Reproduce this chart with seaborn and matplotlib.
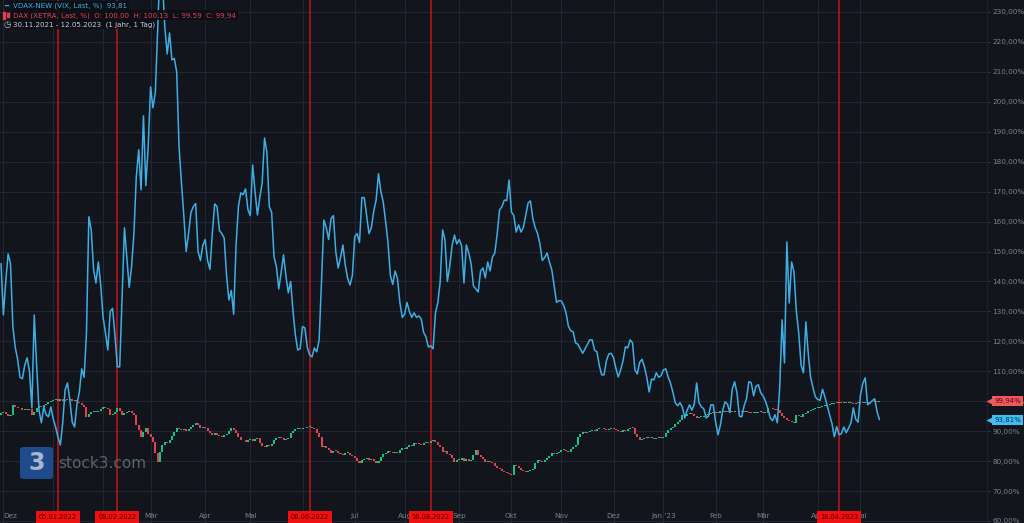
import numpy as np
import pandas as pd
import seaborn as sns
import matplotlib.pyplot as plt
import matplotlib.transforms as mtransforms
from matplotlib.patches import FancyBboxPatch, Rectangle

# trading calendar (XETRA days, 30.11.2021 - 12.05.2023)
start_date = "2021-11-30"
end_date = "2023-05-12"
xetra_holidays = ["2021-12-24", "2021-12-31", "2022-04-15", "2022-04-18",
                  "2022-12-26", "2023-04-07", "2023-04-10", "2023-05-01"]

# VDAX-NEW, performance in % (start = 100)
vdax_pct = [
    146, 128.8, 140, 149.2, 146, 125, 118, 114, 108,
    107.5, 112, 114.5, 110, 97.8, 128.8, 112, 97, 92.8, 98.1,
    95.5, 94.8, 98.1, 94, 91.4, 88, 85.4, 92.8, 103.8, 106.1,
    100.4, 93, 91.4, 99, 103.1, 110.8, 108, 122.8, 161.6,
    157.2, 143.9, 139.5, 146.5, 138.8, 128, 122.8, 117.1, 130, 131,
    122, 111.5, 111.5, 135, 157.9, 148, 138, 145, 156.2, 175,
    184, 170.6, 195.3, 172, 185, 205, 198, 203, 225, 245,
    240, 225, 216, 223, 214, 214.5, 210, 185, 173, 162,
    150, 156, 163, 165, 166, 150, 147, 152, 154, 147,
    144, 156, 165.9, 165, 157, 156, 154.5, 142, 133.8, 137,
    129, 152, 165, 169.6, 169, 170.9, 164, 162, 178.9,
    170, 162.2, 168, 172.9, 187.9, 183, 165, 163, 148.2, 145,
    137.5, 143, 148.9, 142, 136.2, 140, 130, 122, 117.1, 117.5,
    124.9, 124.5, 118, 115.5, 114.8, 117.8, 116.5, 120.5, 140, 160.5,
    158, 154, 161, 162, 150, 144.5, 148, 152.2, 145.5, 141,
    138.8, 142, 155, 156, 153, 168, 168, 162, 156, 158,
    163.5, 167.2, 176, 170, 166.5, 160, 153, 142, 139,
    143.5, 141, 133, 128, 129, 133, 130, 128, 129.5, 128,
    128.5, 127.5, 123, 121.5, 118.1, 118.5, 117.5, 129.5, 133, 140,
    157.2, 153.9, 140, 145, 152, 155.5, 152.5, 154, 152, 139.5,
    152.2, 149.5, 146, 138.5, 137.5, 136.5, 143.5, 144.5, 141.2, 146.5,
    143.5, 148.2, 149.5, 156, 163.9, 165, 167.2, 167, 173.9, 163.2,
    162, 156.5, 158.9, 156.5, 158, 162, 166.2, 166.9, 161, 158,
    156, 152.5, 147, 148, 149.5, 146.5, 143.9, 138.5, 133,
    133.6, 133.5, 132, 129.5, 125, 123.5, 123.2, 119.5, 119, 117.5,
    116, 117.5, 119, 120.5, 120.5, 117.1, 116.5, 112, 108.8, 108.8,
    113.5, 115.8, 116, 114.5, 111, 108.1, 110.5, 113.5, 118.2, 117.8,
    120.5, 119.5, 110.5, 109.1, 113, 114, 111.5, 108, 103.1, 107.4,
    107.1, 109.5, 108, 108.5, 110.5, 110.8, 108.1, 106, 103, 99.5,
    98.5, 99.5, 98, 94.4, 97, 98.8, 97, 99, 106.1, 99.5,
    98.1, 97.5, 94.4, 95, 98.8, 98.8, 93, 88.8, 92,
    97, 99.8, 99, 96.2, 104, 106.5, 102.8, 95, 94.8, 98.5,
    100.8, 106.5, 106.2, 101.8, 105, 105.5, 102.8, 101.8, 100, 97.6,
    94.4, 93.5, 95.5, 92.8, 104.8, 127.2, 112.8, 153.2, 132.8, 146.5,
    143.2, 130, 122.8, 112, 109.5, 126.5, 116, 108, 104.5, 101.5,
    100.6, 100.3, 104, 101.5, 98.5, 95.5, 92.5, 88.1, 91.5,
    88.8, 89.2, 91.4, 89.5, 91, 92.8, 97.8, 94, 93, 102,
    106, 107.8, 98.8, 99.4, 100.2, 100.8, 96.5, 93.81,
]

# DAX daily close, performance in %
dax_close = [
    96.0, 96.4, 95.7, 95.2, 95.5, 98.8, 98.0, 97.6,
    97.8, 97.2, 97.5, 97.0, 97.4, 95.4, 96.3, 97.8, 98.3, 98.0,
    98.6, 99.2, 99.6, 100.0, 100.4, 100.8, 100.2, 100.6, 100.1, 100.5,
    100.3, 100.7, 100.0, 100.4, 99.9, 99.4, 98.6, 98.0, 94.8, 95.6,
    96.4, 96.9, 96.5, 96.8, 97.4, 98.1, 97.8, 97.5, 95.4, 95.9,
    96.4, 97.8, 96.8, 95.4, 96.0, 96.5, 96.9, 96.0, 95.4, 92.1,
    90.4, 88.1, 89.6, 91.1, 89.2, 88.1, 86.5, 82.8, 79.7,
    83.2, 85.4, 86.5, 86.0, 87.1, 88.5, 89.8, 91.1, 90.6, 90.3,
    90.8, 90.2, 90.6, 91.3, 92.0, 92.8, 91.9, 91.1, 91.5, 91.1,
    90.0, 89.4, 88.8, 89.3, 88.8, 88.4, 88.1, 88.6, 89.0, 90.2,
    91.1, 90.5, 89.5, 88.2, 87.1, 86.9, 86.5, 86.9, 87.4, 86.8,
    87.3, 87.8, 86.2, 85.0, 84.8, 85.5, 85.2, 85.8, 87.1, 87.6,
    88.1, 87.6, 87.1, 87.4, 87.8, 89.5, 90.2, 90.7, 91.1,
    90.8, 91.2, 90.9, 91.3, 91.5, 91.0, 90.6, 89.4, 88.1, 84.8,
    85.0, 84.4, 83.6, 82.8, 83.4, 83.3, 82.6, 82.4, 82.1, 82.6,
    82.8, 82.1, 81.6, 81.1, 80.2, 79.4, 80.3, 80.8, 81.1, 80.5,
    80.6, 80.0, 79.4, 80.0, 81.5, 82.4, 82.8, 83.3, 83.1, 82.6,
    83.0, 82.8, 83.6, 84.4, 84.2, 84.8, 85.3, 85.0, 86.1, 85.8,
    85.6, 85.4, 85.9, 86.5, 86.2, 86.8, 87.1, 86.4, 85.4, 84.6,
    83.1, 83.3, 82.5, 82.1, 81.1, 79.7, 80.4, 80.4, 80.9,
    80.0, 80.6, 80.2, 80.5, 82.0, 83.8, 82.1, 81.4, 80.8, 79.7,
    80.1, 79.6, 79.4, 78.5, 77.7, 77.2, 76.8, 76.4, 76.1, 75.8,
    75.4, 78.7, 78.4, 77.8, 77.0, 76.8, 76.4, 76.7, 77.0, 77.5,
    79.4, 80.4, 79.9, 79.7, 80.4, 81.1, 81.6, 82.6, 82.3, 82.8,
    83.2, 83.6, 83.8, 83.4, 83.1, 84.2, 84.8, 85.4, 88.1, 88.9,
    89.8, 89.5, 89.8, 90.2, 90.4, 90.1, 90.7, 90.9, 91.1,
    90.8, 90.4, 90.7, 91.1, 90.6, 90.4, 90.1, 89.8, 90.3, 90.1,
    90.6, 91.1, 91.0, 88.9, 88.1, 87.1, 87.5, 87.6, 88.1, 87.7,
    87.8, 87.5, 87.8, 88.0, 87.7, 88.1, 89.5, 90.4, 91.1, 91.4,
    92.4, 93.1, 93.8, 95.4, 95.0, 95.6, 96.1, 95.7, 95.1, 94.4,
    94.6, 94.8, 95.1, 95.4, 95.8, 96.1, 96.0, 96.4, 96.2, 96.6,
    96.4, 96.8, 96.3, 96.7, 96.5, 96.9, 96.6, 96.4, 96.7, 96.3,
    96.5, 96.1, 96.0, 96.1, 96.1, 96.3, 96.4, 96.0, 96.1,
    97.8, 97.6, 97.5, 97.2, 97.0, 96.1, 95.2, 94.4, 93.8, 93.4,
    93.1, 92.8, 95.4, 95.0, 94.8, 95.6, 96.1, 96.6, 97.1, 97.4,
    97.8, 97.9, 98.1, 98.3, 98.4, 98.7, 99.1, 99.2, 99.4, 99.3,
    99.6, 99.4, 99.5, 99.3, 99.6, 99.4, 99.2, 99.5, 99.3, 99.6,
    99.4, 99.5, 99.8, 99.6, 99.9, 100.1, 99.8, 99.94,
]
dax_first_open = 95.5

event_dates = ["2022-01-05", "2022-02-09", "2022-06-06", "2022-08-16", "2023-04-18"]
event_labels = ["05.01.2022", "09.02.2022", "06.06.2022", "16.08.2022", "18.04.2023"]

month_names = ["Jan", "Feb", "Mär", "Apr", "Mai", "Jun",
               "Jul", "Aug", "Sep", "Okt", "Nov", "Dez"]
y_ticks = list(range(60, 240, 10))

bg = "#12151c"
grid_c = "#22262f"
tick_c = "#7c818c"
blue = "#3eaee4"
up_c = "#14c386"
down_c = "#e2424e"

sns.set_style("dark", {"axes.facecolor": bg, "figure.facecolor": bg,
                       "grid.color": grid_c, "axes.edgecolor": grid_c})
plt.rcParams["font.family"] = ["DejaVu Sans"]

days = pd.bdate_range(start_date, end_date, freq="C", holidays=xetra_holidays)
df = pd.DataFrame({"date": days, "day": np.arange(len(days)),
                   "vdax": vdax_pct, "close": dax_close})
df["open"] = df["close"].shift(1).fillna(dax_first_open)

fig = plt.figure(figsize=(10.24, 5.23), dpi=100)
ax = fig.add_axes([0, 0, 987 / 1024, 1])

# DAX candles
up = df["close"] >= df["open"]
body_low = np.minimum(df["open"], df["close"])
body_h = np.maximum((df["close"] - df["open"]).abs(), 0.3)
ax.bar(df["day"], body_h, bottom=body_low, width=0.85,
       color=np.where(up, up_c, down_c), linewidth=0, zorder=3)

# VDAX line
sns.lineplot(data=df, x="day", y="vdax", color=blue, linewidth=1.1, ax=ax, zorder=4)

# red event lines + date boxes
blend = mtransforms.blended_transform_factory(ax.transData, ax.transAxes)
for d, lab in zip(event_dates, event_labels):
    pos = days.get_loc(pd.Timestamp(d))
    ax.axvline(pos, color="#b8141a", linewidth=1.2, zorder=2)
    ax.text(pos, 0.0115, lab, transform=blend, ha="center", va="center",
            fontsize=4.8, color="#400000", zorder=8,
            bbox=dict(boxstyle="square,pad=0.45", fc="#f20f0f", ec="none"))

# month ticks
month_pos, month_lbl = [], []
prev = None
for i, d in enumerate(days):
    key = (d.year, d.month)
    if prev is not None and key != prev:
        month_pos.append(i)
        name = month_names[d.month - 1]
        if d.month == 1 and d.year == 2023:
            name = "Jan '23"
        month_lbl.append(name)
    prev = key

ax.set_xticks(month_pos)
ax.set_xticklabels(month_lbl)
ax.tick_params(axis="x", length=0, pad=-7, labelsize=5.2, labelcolor=tick_c)
ax.get_xticklabels()[0].set_horizontalalignment("left")

ax.yaxis.tick_right()
ax.set_yticks(y_ticks)
ax.set_yticklabels([f"{t:.2f}".replace(".", ",") + "%" for t in y_ticks])
ax.tick_params(axis="y", length=2.2, width=0.6, pad=1.5, labelsize=5.2,
               colors=tick_c, color="#3a3f4a")

ax.grid(True, color=grid_c, linewidth=0.8)
ax.set_axisbelow(True)
ax.set_xlim(-0.42, 415.3)
ax.set_ylim(59.33, 234.0)
ax.set_xlabel("")
ax.set_ylabel("")
for s in ["top", "left", "bottom"]:
    ax.spines[s].set_visible(False)
ax.spines["right"].set_color("#1e222b")

# last value tags on the price scale
tag_tr = mtransforms.blended_transform_factory(ax.transAxes, ax.transData)
for val, txt, fc, tc in [(dax_close[-1], "99,94%", "#f0585d", "#4a0c10"),
                         (vdax_pct[-1], "93,81%", "#40bdf2", "#0b2d44")]:
    ax.text(1.0075, val, txt, transform=tag_tr, ha="left", va="center",
            fontsize=5.0, color=tc, clip_on=False, zorder=9,
            bbox=dict(boxstyle="square,pad=0.3", fc=fc, ec="none"))
    ax.scatter([1.0025], [val], marker="<", s=20, color=fc, transform=tag_tr,
               clip_on=False, zorder=9, linewidths=0)


def fx(px):
    return px / 1024


def fy(py):
    return 1 - py / 523


# legend block
leg_box = dict(boxstyle="square,pad=0.25", fc="#0c0f15", ec="none", alpha=0.9)
fig.text(fx(4), fy(6), "━", color=blue, fontsize=5, va="center")
fig.text(fx(13), fy(6), "VDAX-NEW (VIX, Last, %)  93,81", color=blue,
         fontsize=5.1, va="center", bbox=leg_box)
fig.add_artist(Rectangle((fx(3), fy(18.5)), fx(2), 6 / 523, color=down_c,
                         transform=fig.transFigure))
fig.add_artist(Rectangle((fx(7), fy(17)), fx(2), 4 / 523, color=down_c,
                         transform=fig.transFigure))
fig.text(fx(13), fy(15.3), "DAX (XETRA, Last, %)  O: 100.00  H: 100.13  L: 99.59  C: 99,94",
         color=down_c, fontsize=5.1, va="center", bbox=leg_box)
fig.text(fx(3), fy(24.5), "◷", color="#c9cdd5", fontsize=6, va="center")
fig.text(fx(13), fy(24.3), "30.11.2021 - 12.05.2023  (1 jahr, 1 Tag)",
         color="#c9cdd5", fontsize=5.1, va="center", bbox=leg_box)

# stock3 watermark
fig.add_artist(FancyBboxPatch((fx(20), fy(479)), fx(33), 32 / 523,
                              boxstyle="round,pad=0,rounding_size=0.004",
                              fc="#1f4b8c", ec="none", transform=fig.transFigure,
                              zorder=10))
fig.text(fx(36.5), fy(463), "3", color="#a8b7cf", fontsize=17, fontweight="bold",
         ha="center", va="center", zorder=11)
fig.text(fx(58), fy(464), "stock3.com", color="#5d626c", fontsize=11,
         va="center", zorder=11)

fig.savefig("out.png", dpi=100, facecolor=bg)
